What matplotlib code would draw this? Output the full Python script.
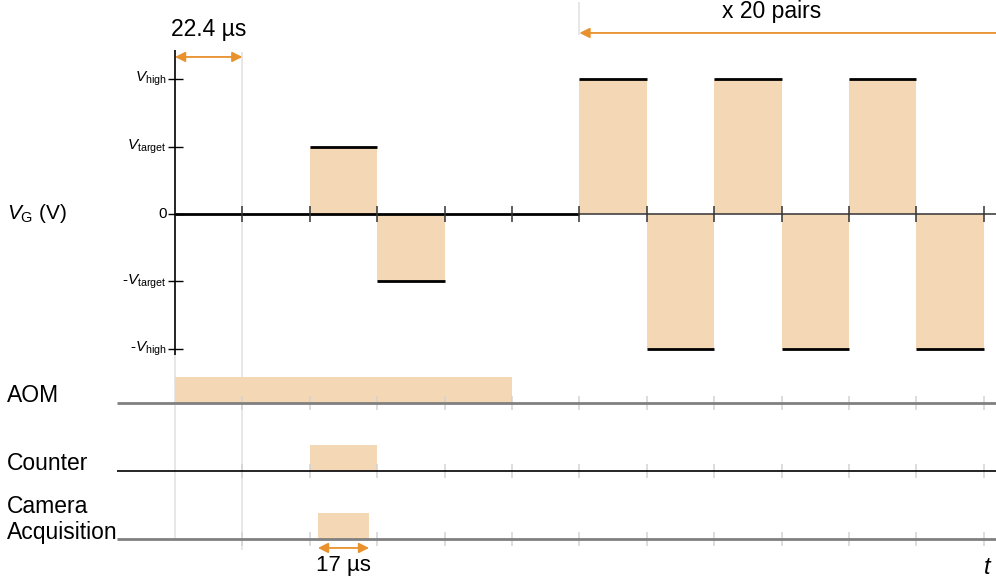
import numpy as np
import matplotlib
matplotlib.use("Agg")
import matplotlib.pyplot as plt

plt.rcParams['font.family'] = ['Liberation Sans', 'DejaVu Sans']
plt.rcParams['mathtext.fontset'] = 'custom'
plt.rcParams['mathtext.rm'] = 'Liberation Sans'
plt.rcParams['mathtext.it'] = 'Liberation Sans:italic'

# timing data (one slot = 22.4 us)
slot_us = 22.4
n_slots = 12
# gate voltage per slot, in units of V_target (V_high = 2 V_target)
vg_levels = [0, 0, 1, -1, 0, 0, 2, -2, 2, -2, 2, -2]
vg_ticks = [2, 1, 0, -1, -2]
vg_ticklabels = [r'$V_{\mathrm{high}}$', r'$V_{\mathrm{target}}$', '0',
                 r'-$V_{\mathrm{target}}$', r'-$V_{\mathrm{high}}$']
aom_on = [1, 1, 1, 1, 1, 0, 0, 0, 0, 0, 0, 0]
counter_on = [0, 0, 1, 0, 0, 0, 0, 0, 0, 0, 0, 0]
camera_us = 17.0
camera_slot = 2
repeat_from_slot = 6
channels = ['AOM', 'Counter', 'Camera\nAcquisition']

FILL = '#F4D7B4'
ORANGE = '#E8912D'

fig = plt.figure(figsize=(9.96, 5.83), dpi=100)
ax = fig.add_axes([0, 0, 1, 1])
ax.set_xlim(-2.596 * slot_us, 12.18 * slot_us)
ax.set_ylim(-5.475, 3.175)
ax.axis('off')

edges = np.arange(n_slots + 1) * slot_us
centers = edges[:-1] + slot_us / 2
t_end = ax.get_xlim()[1]

# V_G panel
ax.bar(centers, vg_levels, width=slot_us, color=FILL, edgecolor='none', zorder=1)
for i, v in enumerate(vg_levels):
    if v != 0:
        ax.hlines(v, edges[i], edges[i + 1], color='black', lw=2, zorder=3)
ax.hlines(0, 0, edges[repeat_from_slot], color='black', lw=2, zorder=3)
ax.hlines(0, edges[repeat_from_slot], t_end, color='#333333', lw=1.1, zorder=3)
ax.vlines(edges[1:], -0.12, 0.12, color='#333333', lw=1.1, zorder=4)
ax.vlines(0, -2.09, 2.43, color='black', lw=1.2, zorder=4)
ax.hlines(vg_ticks, -2.3, 2.5, color='black', lw=1, zorder=4)
for v, lab in zip(vg_ticks, vg_ticklabels):
    ax.text(-2.8, v, lab, ha='right', va='center', fontsize=11)
ax.text(-55.8, 0, r'$V_{\mathrm{G}}$ (V)', ha='left', va='center', fontsize=15)

# guide lines
ax.vlines(slot_us, -4.985, 2.40, color='#e3e3e3', lw=1.2, zorder=0)
ax.vlines(0, -4.84, -2.09, color='#e3e3e3', lw=1.2, zorder=0)
ax.vlines(edges[repeat_from_slot], 2.66, 3.15, color='#e3e3e3', lw=1.2, zorder=0)

# digital channels
base_y = [-2.804, -3.813, -4.822]
label_dy = [0.105, 0.105, 0.29]
pulse_h = 0.386
for y, on in zip(base_y[:2], [aom_on, counter_on]):
    for i, s in enumerate(on):
        if s:
            ax.bar(centers[i], pulse_h, width=slot_us, bottom=y, color=FILL,
                   edgecolor='none', zorder=1)
cam_start = camera_slot * slot_us + (slot_us - camera_us) / 2
ax.bar(cam_start + camera_us / 2, pulse_h, width=camera_us, bottom=base_y[2],
       color=FILL, edgecolor='none', zorder=1)

line_styles = [('#808080', 2), ('black', 1.2), ('#808080', 2)]
for y, dy, (c, lw), name in zip(base_y, label_dy, line_styles, channels):
    ax.hlines(y, -19.3, t_end, color=c, lw=lw, zorder=3)
    ax.vlines(edges[1:], y - 0.1, y + 0.1, color='#d3d3d3', lw=1.1, zorder=2)
    ax.text(-55.8, y + dy, name, ha='left', va='center', fontsize=16.5,
            linespacing=1.15)

# annotations
arrow2 = dict(arrowstyle='<|-|>', color=ORANGE, lw=1.3, shrinkA=0, shrinkB=0,
              mutation_scale=15)
ax.annotate('', xy=(0, 2.33), xytext=(slot_us, 2.33), arrowprops=arrow2)
ax.text(slot_us / 2, 2.73, '22.4 µs', ha='center', va='center', fontsize=16.5)

ax.annotate('', xy=(cam_start, -4.955), xytext=(cam_start + camera_us, -4.955),
            arrowprops=arrow2)
ax.text(cam_start + camera_us / 2, -5.22, '17 µs', ha='center', va='center',
        fontsize=16)

ax.annotate('', xy=(edges[repeat_from_slot], 2.686), xytext=(t_end, 2.686),
            arrowprops=dict(arrowstyle='-|>', color=ORANGE, lw=1.3, shrinkA=0,
                            shrinkB=0, mutation_scale=15))
ax.text(198.4, 3.0, 'x 20 pairs', ha='center', va='center', fontsize=16.5)

ax.text(270, -5.25, '$t$', ha='center', va='center', fontsize=17)

fig.savefig('out.png', dpi=100)
